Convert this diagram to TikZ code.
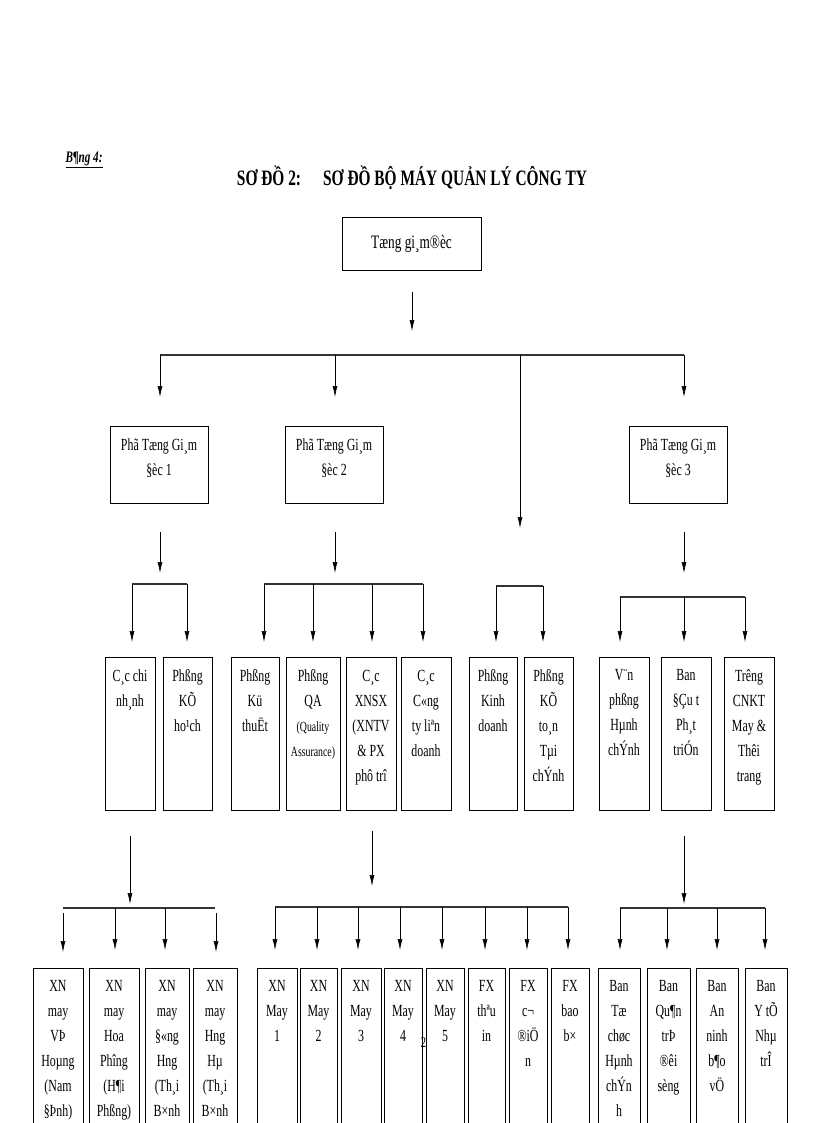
\documentclass[tikz,border=0pt]{standalone}
\usepackage{fontspec}
\setmainfont{Liberation Serif}[FakeStretch=0.7]
\usetikzlibrary{arrows.meta}
\tikzset{
  box/.style={draw,line width=0.9pt,inner sep=0pt},
  txt/.style={align=center,font=\fontsize{17}{25}\selectfont,inner sep=0pt},
  arr/.style={line width=0.6pt,-{Latex[length=11pt,width=5pt]}},
  bar/.style={line width=1.8pt,draw=black!80},
  ln/.style={line width=0.6pt}
}
\newcommand\bx[6]{%
  \node[box,minimum width={(#3-#2)*1pt},minimum height={(#5-#4)*1pt}] (#1) at ({(#2+#3)/2},{(#4+#5)/2}) {};
  \node[txt,anchor=north] (#1t) at ([yshift=-13pt]#1.north) {#6};}
\newcommand\drop[4]{% name x ytop ybottom
  \coordinate (#1a) at (#2,#3); \coordinate (#1b) at (#2,#4);
  \draw[arr] (#1a) -- (#1b);}
\begin{document}
\begin{tikzpicture}[x=1pt,y=-1pt]
\clip (0,0) rectangle (816,1123);
\fill[white] (0,0) rectangle (816,1123);
% titles
\node[font=\bfseries\itshape\fontsize{16}{18}\selectfont,anchor=west] (bang) at (62,160) {\underline{B¶ng 4:}};
\node[font=\bfseries\fontsize{22}{24}\selectfont] (title) at (412,178) {SƠ ĐỒ 2:\quad SƠ ĐỒ BỘ MÁY QUẢN LÝ CÔNG TY};
% top
\node[box,minimum width=139pt,minimum height=53pt] (tgd) at (411.5,243.5) {};
\node[txt,font=\fontsize{19}{22}\selectfont] (tgdt) at (tgd) {Tæng gi¸m®èc};
\drop{d0}{412}{292}{331}
\coordinate (b1l) at (160,355); \coordinate (b1r) at (684,355);
\draw[bar] (b1l) -- (b1r);
\drop{d1}{160}{355}{397}
\drop{d2}{335}{355}{397}
\drop{d3}{520}{355}{528}
\drop{d4}{684}{355}{397}
% row 2
\bx{p1}{110}{208}{426}{503}{Phã Tæng Gi¸m\\§èc 1}
\bx{p2}{285}{383}{426}{503}{Phã Tæng Gi¸m\\§èc 2}
\bx{p3}{629}{727}{426}{503}{Phã Tæng Gi¸m\\§èc 3}
\drop{e1}{160}{532}{573}
\drop{e2}{335}{532}{573}
\drop{e3}{684}{532}{573}
% bars row3
\coordinate (g1l) at (132,584); \coordinate (g1r) at (187,584);
\draw[bar] (g1l) -- (g1r);
\drop{f1}{132}{584}{642}\drop{f2}{187}{584}{642}
\coordinate (g2l) at (264,584); \coordinate (g2r) at (423,584);
\draw[bar] (g2l) -- (g2r);
\drop{f3}{264}{584}{642}\drop{f4}{313}{584}{642}\drop{f5}{372}{584}{642}\drop{f6}{423}{584}{642}
\coordinate (g3l) at (496,586); \coordinate (g3r) at (543,586);
\draw[bar] (g3l) -- (g3r);
\drop{f7}{496}{586}{642}\drop{f8}{543}{586}{642}
\coordinate (g4l) at (620,597); \coordinate (g4r) at (745,597);
\draw[bar] (g4l) -- (g4r);
\drop{f9}{620}{597}{642}\drop{f10}{684}{597}{642}\drop{f11}{745}{597}{642}
% row 3
\bx{r1}{105}{155}{657}{810}{C¸c chi\\nh¸nh}
\bx{r2}{163}{212}{657}{810}{Phßng\\KÕ\\ho¹ch}
\bx{r3}{231}{279}{657}{810}{Phßng\\Kü\\thuËt}
\bx{r4}{286}{340}{657}{810}{Phßng\\QA\\{\fontsize{14}{25}\selectfont(Quality}\\{\fontsize{14}{25}\selectfont Assurance)}}
\bx{r5}{346}{396}{657}{810}{C¸c\\XNSX\\(XNTV\\\& PX\\phô trî}
\bx{r6}{401}{451}{657}{810}{C¸c\\C«ng\\ty liªn\\doanh}
\bx{r7}{469}{517}{657}{810}{Phßng\\Kinh\\doanh}
\bx{r8}{524}{573}{657}{810}{Phßng\\KÕ\\to¸n\\Tµi\\chÝnh}
\bx{r9}{599}{649}{657}{810}{V¨n\\phßng\\Hµnh\\chÝnh}
\bx{r10}{661}{711}{657}{810}{Ban\\§Çu t\\Ph¸t\\triÓn}
\bx{r11}{724}{774}{657}{810}{Trêng\\CNKT\\May \&\\Thêi\\trang}
% row 4 connectors
\drop{h1}{130}{836}{904}
\drop{h2}{372}{831}{886}
\drop{h3}{684}{836}{904}
\coordinate (k1l) at (63,908); \coordinate (k1r) at (215,908);
\draw[bar] (k1l) -- (k1r);
\drop{m1}{63}{913}{952}\drop{m2}{115}{908}{950}\drop{m3}{165}{908}{950}\drop{m4}{216}{913}{952}
\coordinate (k2l) at (275,907); \coordinate (k2r) at (568,907);
\draw[bar] (k2l) -- (k2r);
\foreach \xx/\nn in {275/1,317/2,358/3,400/4,442/5,485/6,527/7,568/8}{\drop{n\nn}{\xx}{907}{950}}
\coordinate (k3l) at (620,908); \coordinate (k3r) at (765,908);
\draw[bar] (k3l) -- (k3r);
\foreach \xx/\nn in {620/1,667/2,717/3,765/4}{\drop{q\nn}{\xx}{908}{950}}
% row 4 boxes
\bx{s1}{33}{83}{968}{1150}{XN\\may\\VÞ\\Hoµng\\(Nam\\§Þnh)}
\bx{s2}{89}{139}{968}{1150}{XN\\may\\Hoa\\Phîng\\(H¶i\\Phßng)}
\bx{s3}{145}{189}{968}{1150}{XN\\may\\§«ng\\Hng\\(Th¸i\\B×nh}
\bx{s4}{193}{237}{968}{1150}{XN\\may\\Hng\\Hµ\\(Th¸i\\B×nh}
\bx{s5}{257}{297}{968}{1150}{XN\\May\\1}
\bx{s6}{300}{337}{968}{1150}{XN\\May\\2}
\bx{s7}{341}{381}{968}{1150}{XN\\May\\3}
\bx{s8}{384}{422}{968}{1150}{XN\\May\\4}
\bx{s9}{426}{464}{968}{1150}{XN\\May\\5}
\bx{s10}{468}{505}{968}{1150}{FX\\thªu\\in}
\bx{s11}{509}{547}{968}{1150}{FX\\c¬\\®iÖ\\n}
\bx{s12}{551}{589}{968}{1150}{FX\\bao\\b×}
\bx{s13}{598}{640}{968}{1150}{Ban\\Tæ\\chøc\\Hµnh\\chÝn\\h}
\bx{s14}{647}{690}{968}{1150}{Ban\\Qu¶n\\trÞ\\®êi\\sèng}
\bx{s15}{696}{738}{968}{1150}{Ban\\An\\ninh\\b¶o\\vÖ}
\bx{s16}{745}{787}{968}{1150}{Ban\\Y tÕ\\Nhµ\\trÎ}
\node[txt,font=\fontsize{15}{15}\selectfont] (two) at (423.5,1043) {2};
\end{tikzpicture}
\end{document}
